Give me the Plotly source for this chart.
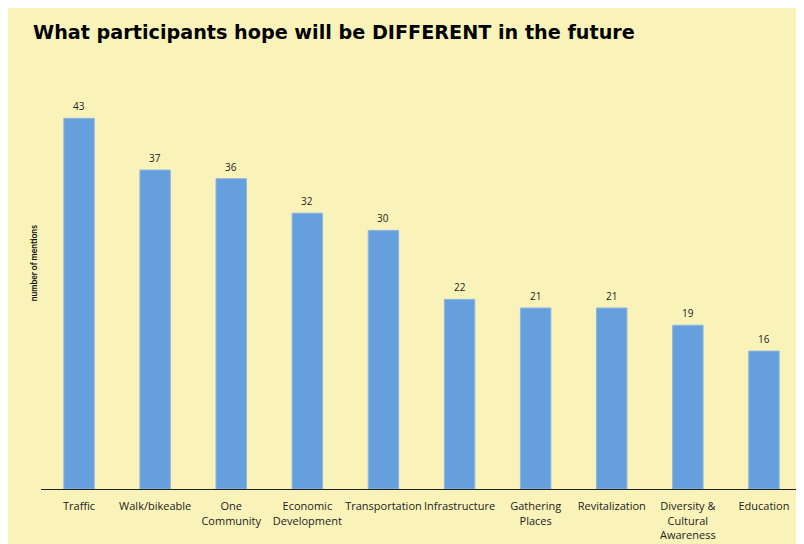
import plotly.graph_objects as go

categories = ["Traffic", "Walk/bikeable", "One<br>Community", "Economic<br>Development",
              "Transportation", "Infrastructure", "Gathering<br>Places", "Revitalization",
              "Diversity &<br>Cultural<br>Awareness", "Education"]
mentions = [43, 37, 36, 32, 30, 22, 21, 21, 19, 16]

title_text = "What participants hope will be DIFFERENT in the future"
y_title = "number of mentions"

# the page places the figure 8px from the window's top-left corner
OFF = 8
W, H = 804 - OFF, 544 - OFF
L, R, T, B = 41 - OFF, 2, 57.5 - OFF, 55
pw = W - L - R
ph = H - T - B

def px_x(p):
    return (p - OFF - L) / pw

def px_y(p):
    return (H - B - (p - OFF)) / ph

BG = "#FAF3B9"
BAR = "#669FDD"

fig = go.Figure()
fig.add_trace(go.Bar(
    x=categories, y=mentions,
    marker=dict(color=BAR, line=dict(color="#8CB6E4", width=1)),
    width=0.4, hoverinfo="skip",
))

for c, v in zip(categories, mentions):
    fig.add_annotation(x=c, y=v, text=str(v), showarrow=False, yshift=12,
                       font=dict(family="Open Sans, Lato, sans-serif", size=10, color="#222"))

fig.add_annotation(xref="paper", yref="paper", x=px_x(34), y=px_y(263),
                   xanchor="center", yanchor="middle", text=f"<b>{y_title}</b>",
                   textangle=-90, showarrow=False,
                   font=dict(family="Lato, Open Sans, sans-serif", size=8.5, color="#111"))

fig.update_layout(
    width=W, height=H,
    margin=dict(l=L, r=R, t=T, b=B, pad=0),
    paper_bgcolor=BG, plot_bgcolor="rgba(0,0,0,0)",
    showlegend=False,
    title=dict(text=f"<b>{title_text}</b>", xref="container", yref="container",
               x=(33 - OFF) / W, xanchor="left", y=1 - (32 - OFF) / H, yanchor="middle",
               font=dict(family="DejaVu Sans, Verdana, sans-serif", size=19.2, color="#000")),
    xaxis=dict(showline=True, linecolor="#222", linewidth=1, ticks="",
               ticklabelstandoff=7,
               tickfont=dict(family="Open Sans, Lato, sans-serif", size=11, color="#222"),
               showgrid=False, fixedrange=True),
    yaxis=dict(range=[0, 50], visible=False, showgrid=False, fixedrange=True),
    bargap=0.6,
)

fig.write_html("out.html")
